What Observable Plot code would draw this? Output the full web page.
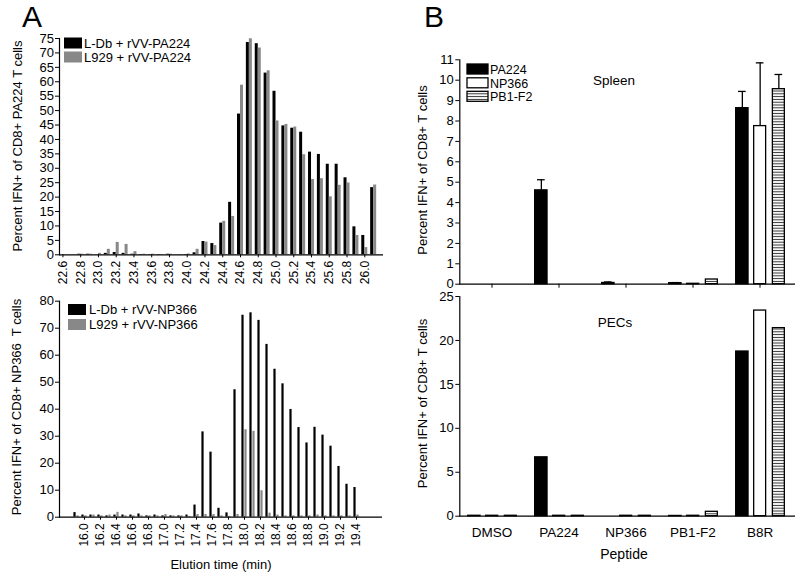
<!DOCTYPE html>
<html>
<head>
<meta charset="utf-8">
<script src="https://cdn.jsdelivr.net/npm/d3@7"></script>
<script src="https://cdn.jsdelivr.net/npm/@observablehq/plot@0.6"></script>
<style>
html, body { margin: 0; padding: 0; background: #fff; }
#root { position: relative; width: 800px; height: 577px; overflow: hidden; font-family: Arial, "Liberation Sans", sans-serif; }
#root > svg { position: absolute; }
svg text { white-space: pre; }
</style>
</head>
<body>
<svg width="0" height="0" style="position:absolute">
  <defs>
    <pattern id="hatch" patternUnits="userSpaceOnUse" width="8" height="2.8">
      <rect width="8" height="2.8" fill="#fff"></rect>
      <line x1="0" x2="8" y1="1.4" y2="1.4" stroke="#333" stroke-width="1"></line>
    </pattern>
  </defs>
</svg>
<div id="root"></div>
<script>
// ---------- Panel A (top): PA224 ----------
const elutionPA = ["22.6","22.7","22.8","22.9","23.0","23.1","23.2","23.3","23.4","23.5","23.6","23.7","23.8","23.9","24.0","24.1","24.2","24.3","24.4","24.5","24.6","24.7","24.8","24.9","25.0","25.1","25.2","25.3","25.4","25.5","25.6","25.7","25.8","25.9","26.0","26.1"];
const pa224LDb  = [0,0,0.2,0.2,0,0.5,0.8,0.5,0.2,0.1,0.1,0.1,0.2,0,0.1,0.7,4.6,3.9,11,18.2,48.8,73.6,73.2,63,56.7,44.7,43.9,42.5,35.6,34.8,31.4,31.4,26.7,9.7,6.7,23.3];
const pa224L929 = [0,0,0.2,0.2,0.5,1.9,4.3,3.6,1.1,0.2,0.2,0.1,0.2,0.1,0.3,1.9,4.4,3.2,11.6,13.3,58.8,74.9,71.7,63.8,46.4,45.2,44.3,34.7,26.1,26.4,20.1,24.1,24.9,6.7,2.5,24.2];
const ticksElutionPA = ["22.6","22.8","23.0","23.2","23.4","23.6","23.8","24.0","24.2","24.4","24.6","24.8","25.0","25.2","25.4","25.6","25.8","26.0"];
const yTicksPA = [0,5,10,15,20,25,30,35,40,45,50,55,60,65,70,75];

// ---------- Panel A (bottom): NP366 ----------
const elutionNP = ["15.9","16.0","16.1","16.2","16.3","16.4","16.5","16.6","16.7","16.8","16.9","17.0","17.1","17.2","17.3","17.4","17.5","17.6","17.7","17.8","17.9","18.0","18.1","18.2","18.3","18.4","18.5","18.6","18.7","18.8","18.9","19.0","19.1","19.2","19.3","19.4"];
const np366LDb  = [1.7,0.8,0.8,0.8,0.5,0.8,0.8,0.8,1.2,0.5,0.8,0.5,0.5,0.5,0.8,4.5,31.6,24.1,3.3,1.6,47.2,74.8,75.7,72.9,64,54.8,49.4,39.9,33.2,27.5,33.3,30.4,26.3,18.8,12.2,11];
const np366L929 = [0.5,0.5,0.8,0.5,0.8,1.8,0.5,0.5,0.5,0.5,0.5,1,0.5,0.5,0.3,1,1,1,0.5,0.3,1,32.4,31.8,9.8,1.5,0.8,0.5,0.5,0.5,0.5,0.8,0.5,0.5,0.5,0.5,0.8];
const ticksElutionNP = ["16.0","16.2","16.4","16.6","16.8","17.0","17.2","17.4","17.6","17.8","18.0","18.2","18.4","18.6","18.8","19.0","19.2","19.4"];
const yTicksNP = [0,10,20,30,40,50,60,70,80];

// ---------- Panel B ----------
const peptides = ["DMSO","PA224","NP366","PB1-F2","B8R"];
const spleenPA224    = [0, 4.6, 0.06, 0.05, 8.63];
const spleenPA224Err = [0, 0.52, 0.05, 0.03, 0.82];
const spleenNP366    = [0, 0, 0, 0.02, 7.75];
const spleenNP366Err = [0, 0, 0, 0, 3.1];
const spleenPB1F2    = [0, 0, 0, 0.23, 9.56];
const spleenPB1F2Err = [0, 0, 0, 0, 0.72];
const yTicksSpleen = [0,1,2,3,4,5,6,7,8,9,10,11];

const pecsPA224 = [0.05, 6.7, 0, 0.03, 18.74];
const pecsNP366 = [0.05, 0.05, 0.05, 0.05, 23.4];
const pecsPB1F2 = [0.05, 0.05, 0.05, 0.5, 21.4];
const yTicksPECs = [0,5,10,15,20,25];

const FONT = 'Arial, "Liberation Sans", sans-serif';
const root = document.getElementById("root");

function place(svg, left, top) {
  svg.style.left = left + "px";
  svg.style.top = top + "px";
  root.appendChild(svg);
}

function elutionPanel({cats, black, gray, ticksX, ticksY, yMax, xRange, height, mt, mb, mr}) {
  const rows = cats.map((t, i) => ({t, black: black[i], gray: gray[i]}));
  const half = (xRange[1] - xRange[0]) / cats.length / 2;
  return Plot.plot({
    width: 400, height,
    marginLeft: 59, marginRight: mr, marginTop: mt, marginBottom: mb,
    style: {fontFamily: FONT, fontSize: "13px", color: "black", background: "transparent", overflow: "visible"},
    x: {type: "band", domain: cats, range: xRange, padding: 0},
    y: {domain: [0, yMax]},
    marks: [
      Plot.barY(rows, {x: "t", y: "black", fill: "black", insetLeft: half - 3, insetRight: half}),
      Plot.barY(rows, {x: "t", y: "gray", fill: "#888", insetLeft: half, insetRight: half - 3}),
      Plot.ruleY([0], {strokeWidth: 1.2}),
      Plot.frame({anchor: "left", strokeWidth: 1.2}),
      Plot.axisY({ticks: ticksY, tickSize: 4, tickPadding: 1.5, fontSize: 13, label: null}),
      Plot.axisX({ticks: ticksX, tickRotate: -90, tickSize: 3, tickPadding: 3, fontSize: 12, label: null})
    ]
  });
}

function peptidePanel({a, ae, b, be, c, ce, ticksY, yMax, height, mt, mb, showLabels}) {
  const range = [57, 393.7];
  const half = (range[1] - range[0]) / peptides.length / 2;
  const mk = (vals, errs) => peptides.map((p, i) => ({p, v: vals[i], e: errs ? errs[i] : 0}));
  const A = mk(a, ae), B = mk(b, be), C = mk(c, ce);
  const offs = [{d: A, l: half - 24, r: half + 11.3, fill: "black"},
                {d: B, l: half - 6, r: half - 6.3, fill: "white"},
                {d: C, l: half + 12.7, r: half - 25, fill: "url(#hatch)"}];
  const marks = [];
  for (const o of offs) {
    const dx = ((o.l) - (o.r)) / 2;
    const errRows = o.d.filter(r => r.e > 0);
    marks.push(Plot.ruleX(errRows, {x: "p", y1: "v", y2: r => r.v + r.e, dx, stroke: "black", strokeWidth: 1.3}));
    marks.push(Plot.tickY(errRows, {x: "p", y: r => r.v + r.e, dx, insetLeft: half - 4, insetRight: half - 4, stroke: "black", strokeWidth: 1.3}));
    marks.push(Plot.barY(o.d, {x: "p", y: "v", fill: o.fill, stroke: "black", strokeWidth: 1.3, insetLeft: o.l, insetRight: o.r}));
  }
  marks.push(Plot.ruleY([0], {strokeWidth: 1.2}));
  marks.push(Plot.frame({anchor: "left", strokeWidth: 1.2}));
  marks.push(Plot.axisY({ticks: ticksY, tickSize: 4, tickPadding: 2, fontSize: 13, label: null}));
  marks.push(showLabels
    ? Plot.axisX({tickSize: 0, tickPadding: 11, fontSize: 13.5, label: null})
    : Plot.axisX({tickSize: 4, tickFormat: () => "", label: null}));
  return Plot.plot({
    width: 400, height,
    marginLeft: 59.3, marginRight: 5, marginTop: mt, marginBottom: mb,
    style: {fontFamily: FONT, fontSize: "13px", color: "black", background: "transparent", overflow: "visible"},
    x: {type: "band", domain: peptides, range, padding: 0},
    y: {domain: [0, yMax]},
    marks
  });
}

place(elutionPanel({cats: elutionPA, black: pa224LDb, gray: pa224L929, ticksX: ticksElutionPA, ticksY: yTicksPA,
  yMax: 75, xRange: [58, 377.6], height: 300, mt: 38, mb: 45.7, mr: 17}), 0, 0);
place(elutionPanel({cats: elutionNP, black: np366LDb, gray: np366L929, ticksX: ticksElutionNP, ticksY: yTicksNP,
  yMax: 80, xRange: [57.8, 374.4], height: 297, mt: 20.7, mb: 60.3, mr: 18}), 0, 280);
place(peptidePanel({a: spleenPA224, ae: spleenPA224Err, b: spleenNP366, be: spleenNP366Err, c: spleenPB1F2, ce: spleenPB1F2Err,
  ticksY: yTicksSpleen, yMax: 11, height: 300, mt: 59.3, mb: 16.3, showLabels: false}), 400, 0);
place(peptidePanel({a: pecsPA224, b: pecsNP366, c: pecsPB1F2,
  ticksY: yTicksPECs, yMax: 25, height: 297, mt: 16, mb: 61.3, showLabels: true}), 400, 280);

// ---------- overlay: panel letters, legends, titles ----------
const ov = d3.create("svg").attr("width", 800).attr("height", 577)
  .style("left", "0px").style("top", "0px").style("pointer-events", "none")
  .attr("font-family", FONT).attr("fill", "black");
ov.append("text").attr("x", 22).attr("y", 26.5).attr("font-size", 30).text("A");
ov.append("text").attr("x", 424).attr("y", 26.5).attr("font-size", 30).text("B");

const legendA = [
  {x: 64, y: 37.5, w: 18, h: 11, fill: "black", tx: 84, ty: 47.5, label: "L-Db + rVV-PA224"},
  {x: 64, y: 51.5, w: 18, h: 11, fill: "#888", tx: 84, ty: 61.7, label: "L929 + rVV-PA224"},
  {x: 68, y: 304, w: 18, h: 11, fill: "black", tx: 89, ty: 313.5, label: "L-Db + rVV-NP366"},
  {x: 68, y: 319, w: 18, h: 11, fill: "#888", tx: 89, ty: 328.5, label: "L929 + rVV-NP366"}
];
for (const l of legendA) {
  ov.append("rect").attr("x", l.x).attr("y", l.y).attr("width", l.w).attr("height", l.h).attr("fill", l.fill);
  ov.append("text").attr("x", l.tx).attr("y", l.ty).attr("font-size", 13).text(l.label);
}
const legendB = [
  {y: 64, fill: "black", ty: 74, label: "PA224"},
  {y: 77.8, fill: "white", ty: 88, label: "NP366"},
  {y: 91.3, fill: "url(#hatch)", ty: 101.3, label: "PB1-F2"}
];
for (const l of legendB) {
  ov.append("rect").attr("x", 467).attr("y", l.y).attr("width", 21).attr("height", 10)
    .attr("fill", l.fill).attr("stroke", "black").attr("stroke-width", 1.3);
  ov.append("text").attr("x", 490).attr("y", l.ty).attr("font-size", 12.5).text(l.label);
}
ov.append("text").attr("x", 614).attr("y", 85).attr("font-size", 13.5).attr("text-anchor", "middle").text("Spleen");
ov.append("text").attr("x", 615).attr("y", 326.7).attr("font-size", 13.5).attr("text-anchor", "middle").text("PECs");

const yTitles = [
  {x: 17, y: 146, label: "Percent IFN+ of CD8+ PA224 T cells"},
  {x: 16.5, y: 407, label: "Percent IFN+ of CD8+ NP366  T cells"},
  {x: 422, y: 170, label: "Percent IFN+ of CD8+ T cells"},
  {x: 422, y: 403.5, label: "Percent IFN+ of CD8+ T cells"}
];
for (const t of yTitles) {
  ov.append("text").attr("transform", `translate(${t.x},${t.y}) rotate(-90)`)
    .attr("text-anchor", "middle").attr("dy", "0.36em").attr("font-size", 13).text(t.label);
}
ov.append("text").attr("x", 221).attr("y", 569.3).attr("font-size", 13).attr("text-anchor", "middle").text("Elution time (min)");
ov.append("text").attr("x", 624).attr("y", 559).attr("font-size", 14).attr("text-anchor", "middle").text("Peptide");
root.appendChild(ov.node());
</script>
</body>
</html>
